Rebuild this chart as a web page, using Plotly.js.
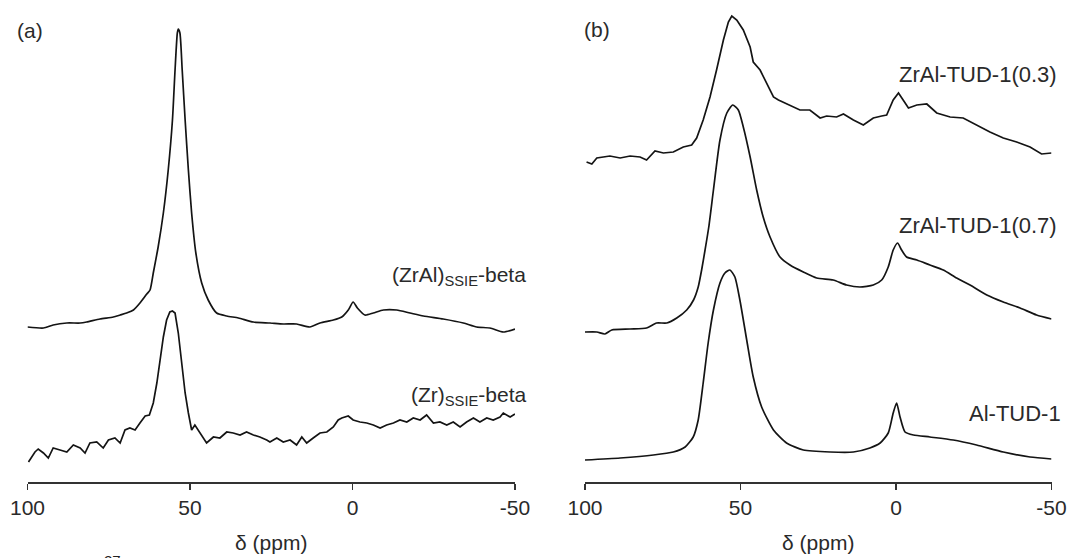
<!DOCTYPE html>
<html>
<head>
<meta charset="utf-8">
<script src="https://cdn.plot.ly/plotly-3.0.1.min.js"></script>
<style>html,body{margin:0;padding:0;background:#fff;}#chart{width:1070px;height:558px;}</style>
</head>
<body>
<div id="chart"></div>
<script>
// ---- Data (chemical shift in ppm, intensity in arbitrary units above each trace's baseline) ----
const tickValues = [100, 50, 0, -50];
const tickLabels = ['100', '50', '0', '-50'];
const axisTitle = 'δ (ppm)';

// Panel (a)
const nameA1 = '(ZrAl)<sub>SSIE</sub>-beta';
const ppmA1 = [100, 95.1, 92.1, 87.9, 83.8, 81.8, 77.7, 73.6, 71.5, 69.5, 67.4, 65.4, 63.3, 62.3, 61.3, 59.8, 58.2, 56.7, 55.4, 54.6, 53.9, 53.6, 53.1, 52.4, 51.5, 50.5, 49.5, 48.2, 46.4, 44.4, 41.8, 38.7, 35.1, 30.5, 25.4, 21.3, 17.2, 13.1, 10, 5.9, 3.3, 1.3, -0.2, -1.5, -3.8, -6.4, -9.5, -13.6, -17.7, -21.8, -27.9, -34.1, -38.2, -42.3, -46.4, -50];
const intA1 = [5, 4, 7, 9, 9, 10, 13, 15, 17, 19, 22, 29, 38, 42, 59, 85, 119, 162, 212, 262, 299, 303, 299, 262, 212, 162, 119, 79, 49, 32, 19, 16, 14, 10, 9, 8, 8, 5, 9, 12, 15, 22, 30, 24, 17, 19, 22, 22, 19, 16, 13, 9, 5, 4, 0, 3];

const nameA2 = '(Zr)<sub>SSIE</sub>-beta';
const ppmA2 = [99.7, 97.7, 96.7, 95.1, 93.6, 92.1, 90, 87.9, 85.9, 83.8, 82.3, 80.8, 78.7, 76.7, 75.1, 73.1, 71.5, 70, 68.5, 66.9, 65.4, 63.8, 62.5, 61.3, 60.2, 59.2, 58.2, 57.2, 56.2, 55.4, 54.6, 53.6, 52.6, 51.5, 50.5, 49.5, 48.5, 46.9, 44.9, 42.8, 40.8, 38.7, 36.7, 34.6, 32.6, 30.5, 28.5, 26.4, 25.4, 23.3, 21.3, 19.2, 17.2, 15.6, 14.1, 12.1, 10, 7.9, 5.9, 4.4, 3.3, 1.3, -0.2, -2.3, -4.4, -6.4, -8.5, -10.5, -12.6, -14.6, -16.7, -18.7, -20.8, -22.8, -24.9, -26.9, -29, -31, -33.1, -35.1, -37.2, -39.2, -41.3, -43.3, -45.4, -46.4, -48.5, -50];
const intA2 = [0, 10, 13, 9, 4, 14, 12, 10, 17, 14, 9, 19, 20, 14, 22, 24, 19, 32, 34, 32, 39, 46, 47, 59, 79, 105, 125, 142, 150, 151, 149, 129, 99, 69, 49, 32, 37, 29, 19, 25, 24, 30, 29, 27, 30, 27, 25, 22, 20, 24, 20, 22, 17, 25, 19, 24, 29, 30, 35, 42, 44, 46, 42, 40, 39, 37, 34, 37, 39, 42, 40, 44, 42, 47, 39, 40, 37, 40, 35, 40, 44, 40, 44, 42, 45, 49, 45, 48];

// Panel (b)
const nameB1 = 'ZrAl-TUD-1(0.3)';
const ppmB1 = [99.5, 97.8, 96.2, 92, 88.7, 85.5, 82.3, 80.2, 77.5, 74.8, 71.6, 68.4, 65.7, 64.1, 62, 59.8, 57.7, 55.5, 53.9, 52.8, 51.2, 49.1, 46.9, 45.9, 43.7, 41.6, 39.4, 37.8, 34.1, 30.9, 27.7, 24.4, 22.3, 19.1, 16.9, 13.7, 10.5, 7.3, 4.6, 3, 0.9, -0.8, -2.3, -4, -6.7, -9.9, -13.1, -17.4, -21.6, -25.9, -30.2, -34.5, -38.8, -43.1, -46.8, -50];
const intB1 = [5, 3, 9, 11, 9, 11, 10, 7, 16, 14, 15, 20, 22, 29, 47, 70, 97, 127, 145, 151, 147, 137, 120, 105, 97, 84, 70, 67, 62, 57, 57, 49, 51, 50, 53, 47, 42, 49, 51, 52, 67, 74, 67, 59, 62, 63, 54, 50, 49, 42, 35, 29, 25, 20, 13, 14];

const nameB2 = 'ZrAl-TUD-1(0.7)';
const ppmB2 = [100, 96.2, 93.6, 91.4, 85.5, 80.2, 77, 73.7, 70.5, 67.3, 65.1, 63.6, 62.5, 61.4, 60.2, 58.7, 56.6, 54.4, 52.5, 50.7, 49.1, 46.9, 44.8, 42.7, 40.5, 37.3, 34.1, 29.8, 25.5, 20.2, 15.9, 11.6, 7.3, 4.6, 2.5, 0.9, -0.5, -1.8, -3.4, -6.7, -10.9, -15.2, -19.5, -23.8, -29.2, -34.5, -39.9, -45.2, -50];
const intB2 = [5, 5, 3, 7, 8, 9, 14, 14, 19, 27, 37, 50, 67, 87, 110, 147, 197, 224, 232, 227, 210, 180, 147, 120, 100, 80, 72, 65, 59, 57, 52, 50, 52, 57, 70, 87, 94, 87, 80, 77, 72, 67, 59, 52, 42, 35, 29, 22, 18];

const nameB3 = 'Al-TUD-1';
const ppmB3 = [100, 88.7, 78, 71.6, 67.8, 65.2, 63.6, 62, 60.4, 58.7, 56.6, 55, 53.4, 51.8, 50.2, 48, 45.9, 43.2, 39.4, 35.2, 29.8, 21.2, 13.7, 8.4, 5.1, 2.5, 0.9, -0.2, -1.3, -2.9, -5.6, -10.9, -18.4, -25.9, -34.5, -43.1, -50];
const intB3 = [2, 4, 7, 10, 15, 25, 42, 79, 119, 152, 179, 189, 192, 185, 162, 122, 85, 55, 32, 19, 12, 10, 10, 14, 19, 29, 49, 59, 45, 30, 27, 25, 22, 17, 10, 5, 3];

// ---- Drawing ----
const W = 1070, H = 558, TOP = 10, AXIS_Y = 482;
const PH = AXIS_Y - TOP;
const lineColor = '#141414';
const textColor = '#2a2a2a';
const fontFam = '"Liberation Sans", Arial, Helvetica, sans-serif';

function trace(x, y, base, xa, ya, shape) {
  return {
    type: 'scatter', mode: 'lines', x: x, y: y.map(v => v + base),
    xaxis: xa, yaxis: ya, hoverinfo: 'skip',
    line: {color: lineColor, width: 1.7, shape: shape || 'linear', smoothing: 0.6}
  };
}

const data = [
  trace(ppmA1, intA1, 150, 'x', 'y', 'spline'),
  trace(ppmA2, intA2, 20, 'x', 'y'),
  trace(ppmB1, intB1, 315, 'x2', 'y2'),
  trace(ppmB2, intB2, 145, 'x2', 'y2', 'spline'),
  trace(ppmB3, intB3, 20, 'x2', 'y2', 'spline')
];

function xAxis(domain, anchor) {
  return {
    domain: domain, anchor: anchor, range: [100, -50],
    tickmode: 'array', tickvals: tickValues, ticktext: tickLabels,
    ticks: 'outside', ticklen: 6, tickwidth: 1.5, tickcolor: '#333',
    showline: true, linecolor: '#333', linewidth: 1.5,
    showgrid: false, zeroline: false, fixedrange: true,
    tickfont: {size: 21, color: textColor, family: fontFam},
    title: {text: axisTitle, font: {size: 21, color: textColor, family: fontFam}, standoff: 17}
  };
}
function yAxis(anchor) {
  return {anchor: anchor, domain: [0, 1], range: [0, PH], visible: false, fixedrange: true};
}

function py(p) { return (AXIS_Y - p) / PH; }
function label(text, xr, ypx, size, anchor) {
  return {
    xref: 'paper', yref: 'paper', x: xr / W, y: py(ypx), text: text, showarrow: false,
    xanchor: anchor || 'right', yanchor: 'middle',
    font: {size: size, color: textColor, family: fontFam}
  };
}

const layout = {
  width: W, height: H,
  margin: {l: 0, r: 0, t: TOP, b: H - AXIS_Y, pad: 0},
  paper_bgcolor: '#fff', plot_bgcolor: '#fff', showlegend: false,
  xaxis: xAxis([27.5 / W, 515 / W], 'y'),
  yaxis: yAxis('x'),
  xaxis2: xAxis([585 / W, 1051.5 / W], 'y2'),
  yaxis2: yAxis('x2'),
  annotations: [
    label('(a)', 15, 30, 21, 'left'),
    label('(b)', 582, 29, 21, 'left'),
    label(nameA1, 528, 276, 21),
    label(nameA2, 528, 396, 21),
    label(nameB1, 1059, 75, 22),
    label(nameB2, 1059, 225, 22),
    label(nameB3, 1063, 413, 22),
    {xref: 'paper', yref: 'paper', x: 102 / W, y: py(550), text: '27', showarrow: false,
     xanchor: 'left', yanchor: 'top', font: {size: 15, color: '#222', family: fontFam}}
  ]
};

Plotly.newPlot('chart', data, layout, {displayModeBar: false, staticPlot: true});
</script>
</body>
</html>
